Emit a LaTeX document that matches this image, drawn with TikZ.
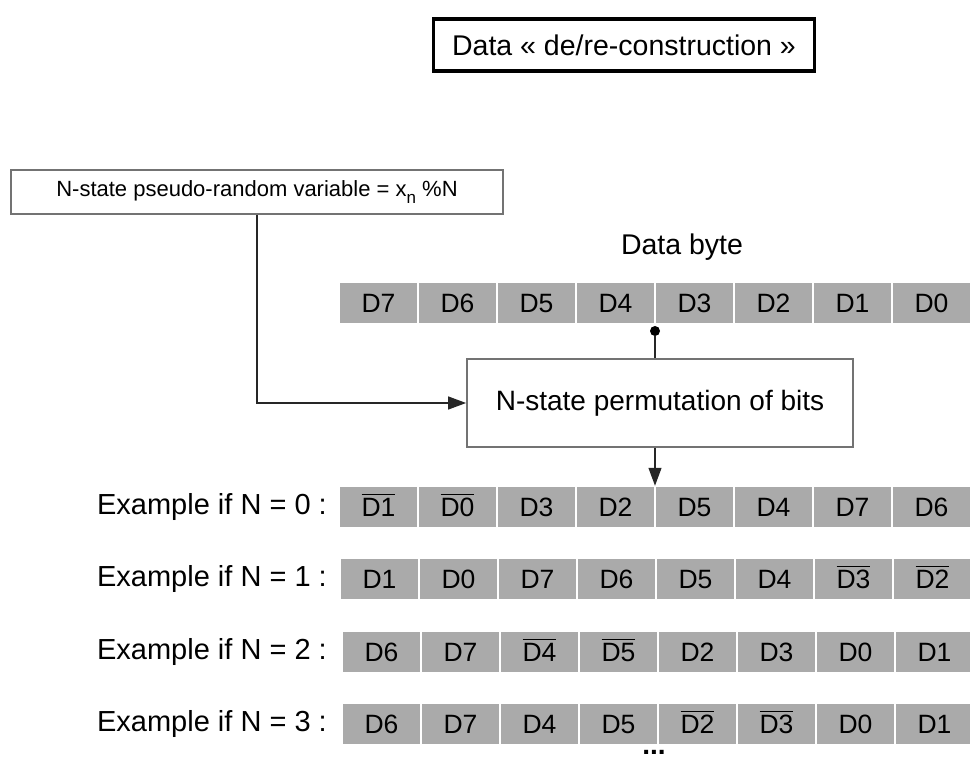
\documentclass[tikz,border=0pt]{standalone}
\usepackage{fontspec}
\setmainfont{Liberation Sans}
\usetikzlibrary{arrows.meta,calc}
\definecolor{cellgray}{RGB}{170,170,170}
\definecolor{boxgray}{RGB}{115,115,115}
% bit written with a bar over it
\newcommand{\nbar}[1]{\setbox0\hbox{#1}\rlap{\rule[\dimexpr\ht0+3pt\relax]{\wd0}{1.4pt}}\box0}
\begin{document}
\begin{tikzpicture}[x=1pt, y=-1pt,
    cell/.style={draw=white, line width=1.5pt, fill=cellgray, minimum width=79pt, minimum height=41pt, inner sep=0pt, text height=19pt, text depth=0pt, font=\fontsize{26.5}{30}\selectfont},
    block/.style={draw=boxgray, line width=1.8pt, fill=white, inner sep=0pt, font=\fontsize{28}{32}\selectfont},
    exlabel/.style={anchor=east, inner sep=0pt, font=\fontsize{29}{33}\selectfont},
    wire/.style={line width=1.3pt, draw=black!85},
    tip/.style={-{Triangle[length=18pt, width=13pt]}}]
    \useasboundingbox (0,0) rectangle (970,762);

    \node[draw=black, line width=3.5pt, minimum width=381pt, minimum height=52pt, font=\fontsize{28.5}{32}\selectfont] (title) at (624,45) {Data « de/re-construction »};

    \node[block, minimum width=492pt, minimum height=44pt, font=\fontsize{22}{26}\selectfont] (rand) at (257,192)
        {N-state pseudo-random variable = x\raisebox{-0.35em}{\fontsize{17}{20}\selectfont n} \%N};
    \node[block, minimum width=386pt, minimum height=88pt] (perm) at (660,403) {N-state permutation of bits};
    \node[font=\fontsize{28.5}{32}\selectfont] (byte) at (682,247) {Data byte};

    % the byte and the four examples
    \foreach \t [count=\i] in {D7,D6,D5,D4,D3,D2,D1,D0}
        \node[cell] (B\i) at ({299.5+79*\i},303) {\t};
    \foreach \t [count=\i] in {\nbar{D1},\nbar{D0},D3,D2,D5,D4,D7,D6}
        \node[cell] (E0\i) at ({299.5+79*\i},507) {\t};
    \foreach \t [count=\i] in {D1,D0,D7,D6,D5,D4,\nbar{D3},\nbar{D2}}
        \node[cell] (E1\i) at ({300.5+79*\i},579) {\t};
    \foreach \t [count=\i] in {D6,D7,\nbar{D4},\nbar{D5},D2,D3,D0,D1}
        \node[cell] (E2\i) at ({302.5+79*\i},652) {\t};
    \foreach \t [count=\i] in {D6,D7,D4,D5,\nbar{D2},\nbar{D3},D0,D1}
        \node[cell] (E3\i) at ({302.5+79*\i},724) {\t};

    \node[exlabel] (L0) at (327,507) {Example if N = 0 :};
    \node[exlabel] (L1) at (327,579) {Example if N = 1 :};
    \node[exlabel] (L2) at (327,652) {Example if N = 2 :};
    \node[exlabel] (L3) at (327,724) {Example if N = 3 :};
    \node[font=\fontsize{28}{32}\selectfont\bfseries, inner sep=0pt] (more) at (654,752) {...};

    % Draw the connectors
    \node[circle, fill=black, inner sep=0pt, minimum size=10pt] (dot) at (655,331) {};
    \draw[wire] (dot) -- (dot |- perm.north);
    \draw[wire, tip] (perm.south -| dot) -- (dot |- E04.north);
    \draw[wire, tip] (rand.south) |- (perm.west);
\end{tikzpicture}
\end{document}
